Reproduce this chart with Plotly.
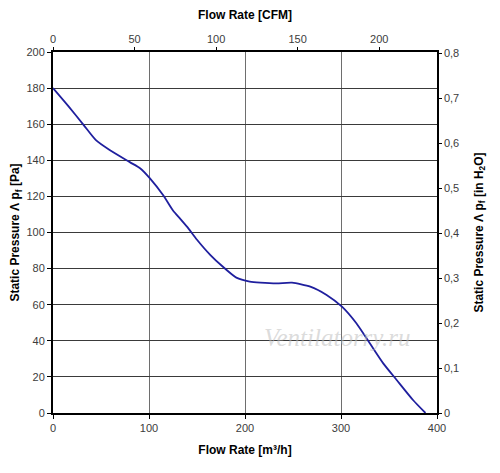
import plotly.graph_objects as go

# fan curve
flow_m3h = [0, 16, 32, 45, 59, 80, 91, 101, 115, 125, 133, 141, 150, 164, 177, 191, 205,
            216, 233, 249, 268, 285, 301, 316, 330, 344, 358, 375, 388]
pressure_pa = [180, 170, 159.5, 151, 145.7, 139, 135.5, 130, 120.5, 112.2, 107.3, 102.3, 96, 87.5, 81, 75, 72.8,
               72.2, 71.8, 72.2, 70, 65.4, 58.9, 49.7, 38.6, 27.5, 18.3, 7.2, 0]

M3H_PER_CFM = 1.699
PA_PER_INH2O = 249.089

flow_cfm = [q / M3H_PER_CFM for q in flow_m3h]
pressure_inh2o = [p / PA_PER_INH2O for p in pressure_pa]

font = "Liberation Sans, Arial, sans-serif"
tick_font = dict(family=font, size=11, color="#3c3c3c")
title_font = dict(family=font, size=12, color="black")

fig = go.Figure()
fig.add_trace(go.Scatter(x=flow_m3h, y=pressure_pa, mode="lines",
                         line=dict(color="#1f1f9e", width=1.8, shape="spline", smoothing=0.6),
                         showlegend=False))
# same curve in CFM / inH2O so the secondary axes get drawn
fig.add_trace(go.Scatter(x=flow_cfm, y=pressure_inh2o, xaxis="x2", yaxis="y2", mode="lines",
                         line=dict(color="rgba(0,0,0,0)", width=1), hoverinfo="skip",
                         showlegend=False))

# the page puts the figure 8px in from the top-left corner
fig.update_layout(
    width=492, height=465,
    margin=dict(l=45, r=63, t=44, b=60),
    paper_bgcolor="white", plot_bgcolor="white",
    separators=", ",
    xaxis=dict(range=[0, 400], dtick=100, showgrid=True, gridcolor="#6e6e6e", gridwidth=1,
               showline=True, linecolor="black", linewidth=2, ticks="outside", ticklen=4,
               tickcolor="black", tickfont=tick_font, zeroline=False, automargin=False,
               title=dict(text="<b>Flow Rate [m³/h]</b>", font=title_font, standoff=12)),
    yaxis=dict(range=[0, 200], dtick=20, showgrid=True, gridcolor="#3a3a3a", gridwidth=1,
               showline=True, linecolor="black", linewidth=2, ticks="outside", ticklen=4,
               tickcolor="black", tickfont=tick_font, zeroline=False, automargin=False,
               title=dict(text="<b>Static Pressure Λ p<sub>f</sub> [Pa]</b>", font=title_font, standoff=8)),
    xaxis2=dict(overlaying="x", side="top", anchor="y", range=[0, 400 / M3H_PER_CFM], dtick=50,
                showgrid=False, showline=True, linecolor="black", linewidth=2, ticks="outside",
                ticklen=3, tickcolor="black", tickfont=tick_font, zeroline=False, automargin=False,
                title=dict(text="<b>Flow Rate [CFM]</b>", font=title_font, standoff=10)),
    yaxis2=dict(overlaying="y", side="right", anchor="x", range=[0, 200 / PA_PER_INH2O], dtick=0.1,
                showgrid=False, showline=True, linecolor="black", linewidth=1.5, ticks="outside",
                ticklen=3, tickcolor="black", tickfont=tick_font, zeroline=False, automargin=False,
                title=dict(text="<b>Static Pressure Λ p<sub>f</sub> [in H<sub>2</sub>O]</b>",
                           font=title_font, standoff=16)),
)

fig.add_annotation(text="<i>Ventilatorry.ru</i>", xref="x", yref="y", x=296, y=42,
                   showarrow=False, font=dict(family="Liberation Serif, serif", size=25,
                                              color="rgba(190,190,190,0.55)"))

fig.write_html("out.html")
